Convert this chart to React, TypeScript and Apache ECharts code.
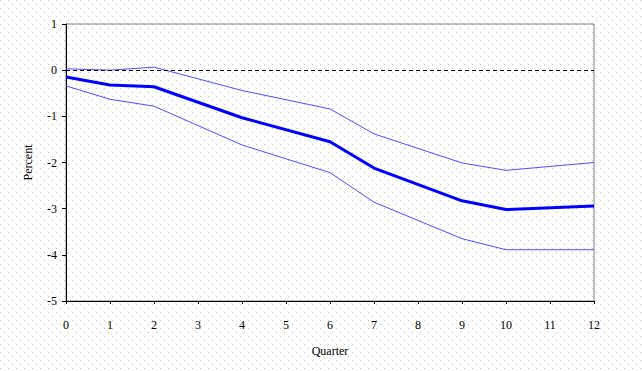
import React, { useEffect, useRef } from "react";
import * as echarts from "echarts";

const quarters = ["0", "1", "2", "3", "4", "5", "6", "7", "8", "9", "10", "11", "12"];
const estimate = [-0.15, -0.32, -0.36, null, -1.03, null, -1.55, -2.12, null, -2.83, -3.02, null, -2.94];
const upperBand = [0.03, 0.0, 0.065, null, -0.44, null, -0.84, -1.38, null, -2.01, -2.17, null, -2.0];
const lowerBand = [-0.34, -0.63, -0.78, null, -1.62, null, -2.22, -2.86, null, -3.65, -3.89, null, -3.89];

const FONT = "Liberation Serif";
const dots =
  "url(\"data:image/svg+xml;utf8,<svg xmlns='http://www.w3.org/2000/svg' width='8' height='8'><rect x='0' y='0' width='1' height='1' fill='%23c0c0c0'/><rect x='4' y='4' width='1' height='1' fill='%23c0c0c0'/></svg>\")";

export default function App() {
  const ref = useRef<HTMLDivElement>(null);
  useEffect(() => {
    if (!ref.current) return;
    const chart = echarts.init(ref.current, undefined, { renderer: "svg" });
    const band = (name: string, data: (number | null)[]) => ({
      name,
      type: "line",
      data,
      connectNulls: true,
      showSymbol: false,
      symbol: "none",
      lineStyle: { color: "#4d4dff", width: 1 },
      z: 3,
    });
    chart.setOption({
      animation: false,
      backgroundColor: "transparent",
      textStyle: { fontFamily: FONT },
      grid: {
        left: 66,
        right: 48,
        top: 24,
        bottom: 70,
        show: true,
        borderColor: "#808080",
        borderWidth: 1,
        backgroundColor: "transparent",
      },
      xAxis: {
        type: "category",
        data: quarters,
        boundaryGap: false,
        name: "Quarter",
        nameLocation: "middle",
        nameGap: 44,
        nameTextStyle: { fontFamily: FONT, fontSize: 12, color: "#000" },
        axisLine: { onZero: false, lineStyle: { color: "#000", width: 1 } },
        axisTick: { show: true, length: 3, alignWithLabel: true, lineStyle: { color: "#000" } },
        axisLabel: { fontFamily: FONT, fontSize: 12, color: "#000", margin: 18, interval: 0 },
        splitLine: { show: false },
      },
      yAxis: {
        type: "value",
        min: -5,
        max: 1,
        interval: 1,
        name: "Percent",
        nameLocation: "middle",
        nameGap: 32,
        nameTextStyle: { fontFamily: FONT, fontSize: 12, color: "#000" },
        axisLine: { show: true, lineStyle: { color: "#000", width: 1 } },
        axisTick: { show: true, length: 4, lineStyle: { color: "#000" } },
        axisLabel: { fontFamily: FONT, fontSize: 12, color: "#000", margin: 9 },
        splitLine: { show: false },
      },
      series: [
        band("Upper", upperBand),
        band("Lower", lowerBand),
        {
          name: "Estimate",
          type: "line",
          data: estimate,
          connectNulls: true,
          showSymbol: false,
          symbol: "none",
          lineStyle: { color: "#0000ff", width: 3 },
          z: 4,
          markLine: {
            silent: true,
            symbol: "none",
            label: { show: false },
            lineStyle: { color: "#000", width: 1, type: [4, 3] },
            data: [{ yAxis: 0 }],
          },
        },
      ],
    });
    return () => chart.dispose();
  }, []);
  return (
    <div
      style={{
        position: "absolute",
        left: 0,
        top: 0,
        width: 642,
        height: 371,
        backgroundColor: "#fff",
        backgroundImage: dots,
        backgroundSize: "8px 8px",
      }}
    >
      <div ref={ref} style={{ width: 642, height: 371 }} />
    </div>
  );
}
